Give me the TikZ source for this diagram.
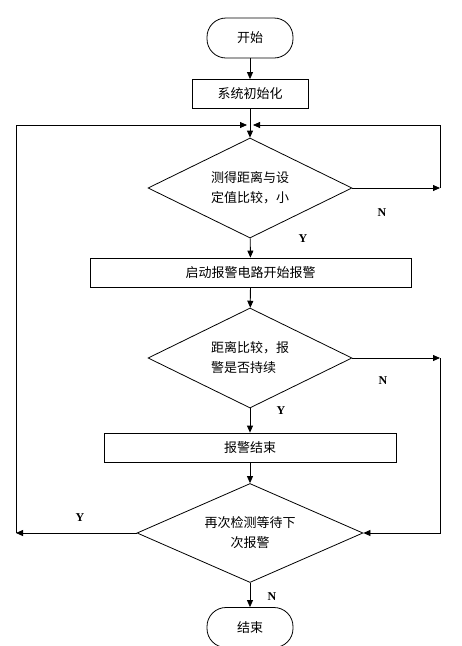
\documentclass[tikz,border=0pt]{standalone}
\usepackage{fontspec}
\newfontfamily\cjk{Noto Sans CJK SC}
\newfontfamily\labfont{Liberation Serif}
\usetikzlibrary{shapes.geometric,arrows.meta}
\tikzset{
  base/.style={draw=black, line width=0.8pt, font=\cjk\fontsize{13pt}{20pt}\selectfont, inner sep=0pt},
  term/.style={base, rounded corners=19pt, minimum width=86pt, minimum height=40pt},
  proc/.style={base, rectangle, minimum height=29pt},
  dec/.style={base, diamond, minimum width=204pt, minimum height=100pt, aspect=2},
  arr/.style={line width=0.8pt, -{Triangle[length=7pt,width=6pt]}},
  yn/.style={font=\labfont\bfseries\fontsize{12pt}{13pt}\selectfont, inner sep=0pt}
}
\begin{document}
\begin{tikzpicture}[x=1pt,y=-1pt]
\useasboundingbox (0,0) rectangle (462,646);
\node[term] (start) at (250,38) {开始};
\node[proc, minimum width=116pt] (init) at (250,94) {系统初始化};
\node[dec, align=left] (d1) at (250,188) {测得距离与设\\定值比较，小};
\node[proc, minimum width=321pt] (alarm) at (250.5,272.5) {启动报警电路开始报警};
\node[dec, align=left] (d2) at (250,358) {距离比较，报\\警是否持续};
\node[proc, minimum width=292pt] (stop) at (250,447.5) {报警结束};
\node[dec, align=center, minimum width=226pt, minimum height=99pt, aspect=2.28] (d3) at (250,533) {再次检测等待下\\次报警};
\node[term] (end) at (250,627.5) {结束};

\coordinate (jl) at (247,125);
\coordinate (jr) at (253,125);
\coordinate (r1) at (440,188);
\coordinate (r2) at (440,358);
\coordinate (l1) at (16,533);

\draw[arr] (start) -- (init);
\draw[arr] (init) -- (d1);
\draw[arr] (d1) -- (alarm);
\draw[arr] (alarm) -- (d2);
\draw[arr] (d2) -- (stop);
\draw[arr] (stop) -- (d3);
\draw[arr] (d3) -- (end);

\draw[arr] (d1.east) -- (r1);
\draw[arr] (r1) |- (jr);
\draw[arr] (d2.east) -- (r2);
\draw[arr] (r2) |- (d3.east);
\draw[arr] (d3.west) -- (l1);
\draw[arr] (l1) |- (jl);

\node[yn] (n1) at (382,213) {N};
\node[yn] (y1) at (303,239) {Y};
\node[yn] (n2) at (383,381) {N};
\node[yn] (y2) at (281,411) {Y};
\node[yn] (y3) at (80,518) {Y};
\node[yn] (n3) at (272,597) {N};
\end{tikzpicture}
\end{document}
